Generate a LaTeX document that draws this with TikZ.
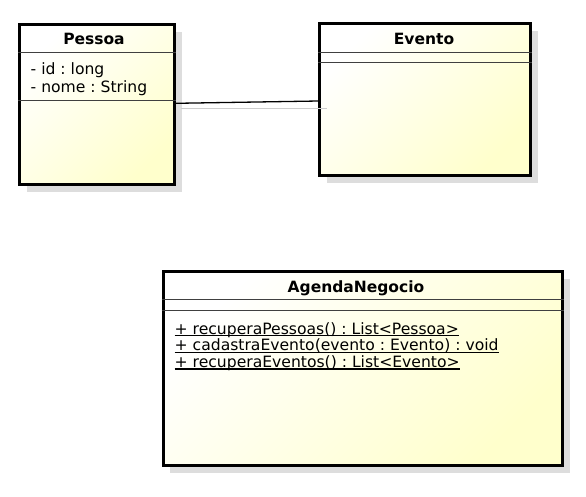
\documentclass[tikz,border=0pt]{standalone}
\usepackage{fontspec}
\setmainfont{DejaVu Sans}
\frenchspacing
\usetikzlibrary{calc,positioning,shadows}
\definecolor{classfill}{RGB}{255,255,204}
\definecolor{shadowgray}{RGB}{221,221,221}
\tikzset{
	classbox/.style={draw=black, line width=3pt, inner sep=0pt, top color=white, bottom color=classfill, shading angle=45, drop shadow={shadow xshift=7pt, shadow yshift=-7.5pt, fill=shadowgray, opacity=1}},
	divider/.style={line width=0.9pt, color=black!75},
	titlelabel/.style={inner sep=0pt, anchor=base, font=\fontsize{15.5}{17.5}\selectfont\bfseries},
	memberlabel/.style={inner sep=0pt, anchor=base west, font=\fontsize{15.6}{17.5}\selectfont},
	assoc/.style={line width=1.3pt, color=black},
	assocshadow/.style={line width=1.2pt, color=black!20}
}

\begin{document}
\begin{tikzpicture}[x=1pt, y=-1pt]
			%%%%% START %%%%%
			\useasboundingbox (0, 0) rectangle (586, 496);
			
			\node[classbox, minimum width=155pt, minimum height=160pt] (pessoa) at (97, 104.5) {};
			\node[classbox, minimum width=211pt, minimum height=151.5pt] (evento) at (425.3, 99.5) {};
			\node[classbox, minimum width=399.6pt, minimum height=193.7pt] (agenda) at (363, 368.3) {};
			
			\draw[divider] (pessoa.west |- 0, 52) -- (pessoa.east |- 0, 52);
			\draw[divider] (pessoa.west |- 0, 100) -- (pessoa.east |- 0, 100);
			\draw[divider] (evento.west |- 0, 52) -- (evento.east |- 0, 52);
			\draw[divider] (evento.west |- 0, 62) -- (evento.east |- 0, 62);
			\draw[divider] (agenda.west |- 0, 299) -- (agenda.east |- 0, 299);
			\draw[divider] (agenda.west |- 0, 310) -- (agenda.east |- 0, 310);
			
			\node[titlelabel] (pessoa-title) at (94, 44.3) {Pessoa};
			\node[titlelabel] (evento-title) at (424, 44) {Evento};
			\node[titlelabel] (agenda-title) at (356, 292.3) {AgendaNegocio};
			
			\node[memberlabel] (pessoa-a1) at (30.5, 74.3) {- id : long};
			\node[memberlabel] (pessoa-a2) at (30.5, 92.3) {- nome : String};
			
			\node[memberlabel] (agenda-m1) at (174.5, 334) {+ recuperaPessoas() : List<Pessoa>};
			\node[memberlabel] (agenda-m2) at (174.5, 350.7) {+ cadastraEvento(evento : Evento) : void};
			\node[memberlabel] (agenda-m3) at (174.5, 367.3) {+ recuperaEventos() : List<Evento>};
			\foreach \m in {agenda-m1, agenda-m2, agenda-m3}
				\draw[line width=1.1pt] ([yshift=-1.7pt]\m.base west) -- ([yshift=-1.7pt]\m.base east);
			
			\draw[assoc] ([yshift=1.2pt]pessoa.east) -- ([yshift=-1.5pt]evento.west);
			\draw[assocshadow] ([xshift=5pt, yshift=-3.8pt]pessoa.east) -- ([xshift=9pt, yshift=-8.8pt]evento.west);
			
			%%%%% END %%%%%
\end{tikzpicture}
\end{document}
